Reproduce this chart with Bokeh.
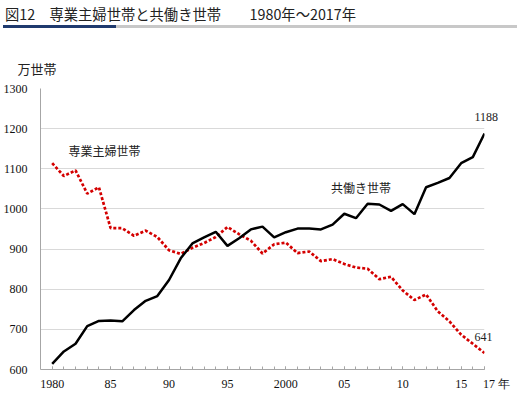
from bokeh.plotting import figure
from bokeh.models import Range1d, FixedTicker, Label, Title, LinearAxis, Div
from bokeh.layouts import column
from bokeh.embed import file_html
from bokeh.resources import INLINE

years = list(range(1980, 2018))
dual_income = [614, 645, 664, 708, 721, 722, 720, 748, 771, 783,
               823, 877, 914, 929, 943, 908, 927, 949, 956, 929,
               942, 951, 951, 949, 961, 988, 977, 1013, 1011, 995,
               1012, 987, 1054, 1065, 1077, 1114, 1129, 1188]
housewife = [1114, 1082, 1096, 1038, 1054, 952, 952, 933, 946, 930,
             897, 888, 903, 915, 930, 955, 937, 921, 889, 912,
             916, 890, 894, 870, 875, 863, 854, 851, 825, 831,
             797, 773, 787, 745, 720, 687, 664, 641]
x_ticks = [1980, 1985, 1990, 1995, 2000, 2005, 2010, 2015, 2017]
x_tick_labels = ["1980", "85", "90", "95", "2000", "05", "10", "15",
                 "\u2007\u2007\u2007\u200717 年"]
y_ticks = [600, 700, 800, 900, 1000, 1100, 1200, 1300]

title_text = "図12　専業主婦世帯と共働き世帯　　1980年～2017年"
jp = "Noto Sans CJK JP"
num = "Liberation Sans Narrow"
W, H = 524, 396
HEAD = 30

head = Div(width=W, height=HEAD, margin=0, text=(
    '<div style="position:relative;width:%dpx;height:%dpx;margin:0;padding:0;">'
    '<div style="position:absolute;left:5px;top:4px;font-family:\'Noto Sans CJK JP\';'
    'font-size:14.3px;line-height:20px;color:#222222;white-space:pre;">%s</div>'
    '<div style="position:absolute;left:3px;top:25px;width:113px;height:3px;background:#1f3a6e;"></div>'
    '<div style="position:absolute;left:116px;top:25px;width:401px;height:3px;background:#c8c8c8;"></div>'
    '</div>') % (W, HEAD, title_text))

p = figure(width=W, height=H - HEAD, output_backend="svg", toolbar_location=None,
           x_range=Range1d(1979, 2017), y_range=Range1d(600, 1300),
           min_border_left=38, min_border_right=40, min_border_top=88 - HEAD,
           min_border_bottom=27, margin=0)
p.title.visible = False
p.outline_line_color = None
p.background_fill_color = "white"

p.xaxis.ticker = FixedTicker(ticks=x_ticks, minor_ticks=years)
p.xaxis.major_label_overrides = {t: l for t, l in zip(x_ticks, x_tick_labels)}
p.yaxis.ticker = FixedTicker(ticks=y_ticks)

for ax in (p.xaxis[0], p.yaxis[0]):
    ax.axis_line_color = "#a6a6a6"
    ax.major_tick_line_color = "#a6a6a6"
    ax.minor_tick_line_color = "#a6a6a6"
    ax.major_label_text_font = num
    ax.major_label_text_font_size = "12px"
    ax.major_label_text_color = "#111111"

p.xaxis.major_tick_in = 3
p.xaxis.major_tick_out = 0
p.xaxis.minor_tick_in = 3
p.xaxis.minor_tick_out = 0
p.xaxis.major_label_standoff = 7
p.yaxis.major_tick_in = 0
p.yaxis.major_tick_out = 0
p.yaxis.minor_tick_line_color = None
p.yaxis.major_label_standoff = 13

p.xgrid.grid_line_color = None
p.ygrid.ticker = FixedTicker(ticks=y_ticks)
p.ygrid.grid_line_color = "#d9d9d9"
p.ygrid.grid_line_width = 1

p.line(years, housewife, line_color="#d40000", line_width=2.7, line_dash="3 2")
p.line(years, dual_income, line_color="#000000", line_width=2.5)

# unit label above the y axis
p.add_layout(Title(text="万世帯", align="left", offset=-23, text_font=jp,
                   text_font_size="13px", text_color="#222222",
                   text_font_style="normal", standoff=22), "above")

# end-value labels on a right axis (label offset above each series' last point)
end_offset = 40
end_ticks = [dual_income[-1] + end_offset, housewife[-1] + end_offset]
end_labels = [str(dual_income[-1]), str(housewife[-1])]
end_axis = LinearAxis(ticker=FixedTicker(ticks=end_ticks),
                      major_label_overrides={t: l for t, l in zip(end_ticks, end_labels)},
                      axis_line_color=None, major_tick_line_color=None,
                      minor_tick_line_color=None, major_label_standoff=-16,
                      major_label_text_font=num, major_label_text_font_size="12px",
                      major_label_text_color="#222222")
p.add_layout(end_axis, "right")

# series labels
p.add_layout(Label(x=1981.4, y=1146, text="専業主婦世帯", text_font=jp,
                   text_font_size="12px", text_color="#222222",
                   text_baseline="middle", text_align="left"))
p.add_layout(Label(x=2003.87, y=1054, text="共働き世帯", text_font=jp,
                   text_font_size="12px", text_color="#222222",
                   text_baseline="middle", text_align="left"))

open("out.html", "w").write(file_html(column(head, p, spacing=0), INLINE))
